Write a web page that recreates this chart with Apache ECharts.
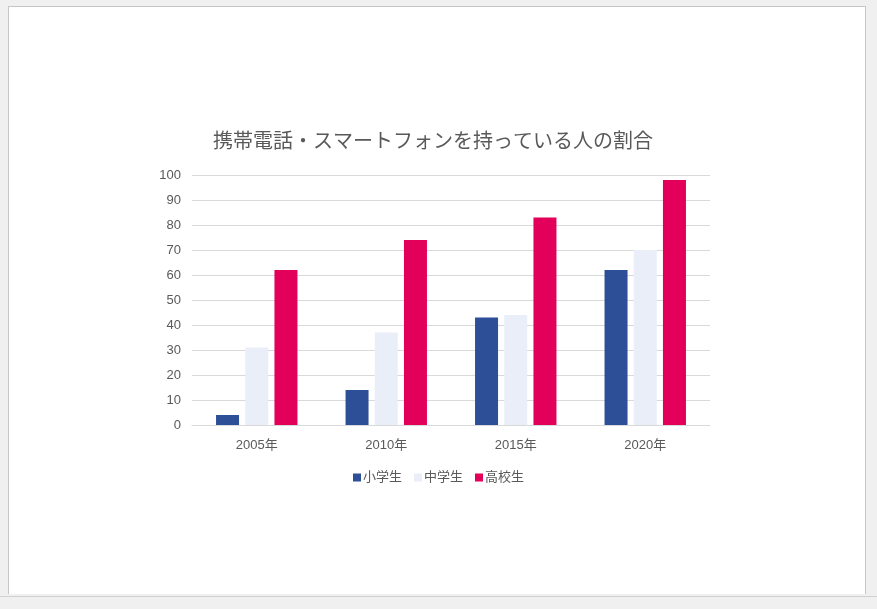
<!DOCTYPE html>
<html><head><meta charset="utf-8">
<script src="https://cdn.jsdelivr.net/npm/echarts@6/dist/echarts.min.js"></script>
<style>
html,body{margin:0;padding:0;width:877px;height:609px;background:#f0f0f0;overflow:hidden;}
#frame{position:absolute;left:8px;top:6px;width:856px;height:587px;background:#fff;border-left:1px solid #c6c6c6;border-top:1px solid #c6c6c6;border-right:1px solid #c6c6c6;}
#line{position:absolute;left:0;top:596px;width:877px;height:1px;background:#d0d0d0;}
#chart{position:absolute;left:0;top:0;width:877px;height:609px;}
</style></head>
<body>
<div id="frame"></div><div id="line"></div>
<div id="chart"></div>
<script>
const categories = ['2005年','2010年','2015年','2020年'];
const elementary = [4, 14, 43, 62];
const juniorHigh = [31, 37, 44, 70];
const highSchool = [62, 74, 83, 98];
const yTicks = {min: 0, max: 100, interval: 10};

const font = "'Liberation Sans', 'Noto Sans CJK JP', sans-serif";
const chart = echarts.init(document.getElementById('chart'), null, {renderer:'canvas'});
chart.setOption({
  backgroundColor: 'transparent',
  animation: false,
  title: {
    text: '携帯電話・スマートフォンを持っている人の割合',
    left: 208, top: 127,
    textStyle: {fontFamily: font, fontSize: 20, fontWeight: 'normal', color: '#595959'}
  },
  legend: {
    left: 'center', top: 466,
    itemWidth: 8, itemHeight: 8, itemGap: 12, icon: 'rect',
    textStyle: {fontFamily: font, fontSize: 13, color: '#595959', padding:[0,0,0,-3]},
    data: ['小学生','中学生','高校生']
  },
  grid: {left: 192, right: 167, top: 175, bottom: 184, containLabel: false},
  xAxis: {
    type: 'category', data: categories,
    axisLine: {lineStyle: {color: '#d9d9d9'}},
    axisTick: {show: false},
    axisLabel: {fontFamily: font, fontSize: 13, color: '#595959', margin: 14}
  },
  yAxis: {
    type: 'value', min: yTicks.min, max: yTicks.max, interval: yTicks.interval,
    axisLine: {show: false}, axisTick: {show: false},
    splitLine: {lineStyle: {color: '#d9d9d9'}},
    axisLabel: {fontFamily: font, fontSize: 13, color: '#595959', margin: 11}
  },
  series: [
    {name: '小学生', type: 'bar', data: elementary, barWidth: 23, barGap: '27%', itemStyle: {color: '#2c4f97'}},
    {name: '中学生', type: 'bar', data: juniorHigh, barWidth: 23, barGap: '27%', itemStyle: {color: '#e9eef9'}},
    {name: '高校生', type: 'bar', data: highSchool, barWidth: 23, barGap: '27%', itemStyle: {color: '#e2005a'}}
  ]
});
</script>
</body></html>
